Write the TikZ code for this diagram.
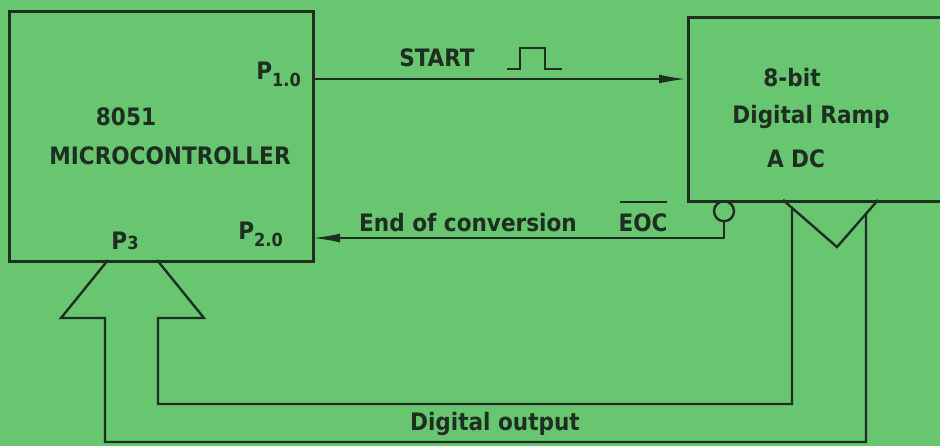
\documentclass[tikz,border=0pt]{standalone}
\usepackage{fontspec}
\setmainfont{DejaVu Sans}
\newfontfamily\lblfont{DejaVu Sans Condensed}
\usetikzlibrary{arrows.meta}
\definecolor{bg}{RGB}{104,198,112}
\definecolor{ink}{RGB}{30,46,32}
\begin{document}
\begin{tikzpicture}[x=0.5pt,y=-0.5pt,
  line width=1.1pt, draw=ink, text=ink,
  wire/.style={draw=ink, line width=1.2pt},
  box/.style={draw=ink, line width=1.3pt, rectangle, inner sep=0pt},
  lbl/.style={font=\lblfont\bfseries\fontsize{12}{14}\selectfont, text=ink, inner sep=0pt},
  tip/.style={-{Latex[length=14pt,width=4.5pt]}}]
\clip (0,0) rectangle (940,446);
\fill[bg] (0,0) rectangle (940,446);
% boxes
\node[box, anchor=north west, minimum width=152pt, minimum height=125pt] (mc) at (8,10) {};
\node[box, anchor=north west, minimum width=140pt, minimum height=92pt] (adc) at (687,16) {};
% ports
\coordinate (p10) at (312,79);
\coordinate (adcin) at (687,79);
\coordinate (p20) at (312,238);
\coordinate (eocb) at (724,238);
\node[draw=ink, circle, line width=1.2pt, minimum size=10pt, inner sep=0pt, anchor=north] (bub) at (724,200) {};
% START
\draw[wire, tip] (p10) -- (adcin);
\node[lbl] (start) at (437,58) {START};
\draw[wire, line width=1.1pt] (507,69) -- (520,69) -- (520,48) -- (545,48) -- (545,69) -- (562,69);
% EOC
\draw[wire, tip] (bub.south) -- (eocb) -- (p20);
\node[lbl] (eoclbl) at (468,223) {End of conversion};
\node[lbl] (eoc) at (643,223) {EOC};
\draw[wire, line width=1.1pt] (620,202) -- (667,202);
% texts in boxes
\node[lbl] (t8051) at (126,117) {8051};
\node[lbl] (tmc) at (170,156) {MICROCONTROLLER};
\node[lbl, anchor=east] (lp10) at (302,74) {P\raisebox{-0.55ex}{\small 1.0}};
\node[lbl, anchor=east] (lp20) at (284,234) {P\raisebox{-0.55ex}{\small 2.0}};
\node[lbl] (lp3) at (125,241) {P{\small 3}};
\node[lbl] (t8) at (792,78) {8-bit};
\node[lbl] (tdr) at (811,117) {Digital Ramp};
\node[lbl] (tadc) at (796,159) {A DC};
% ADC output triangle
\coordinate (tl) at (783,200);
\coordinate (tb) at (837,247);
\coordinate (tr) at (878,200);
\draw[wire, line join=miter] (tl) -- (tb) -- (tr);
% big hollow arrow to P3
\coordinate (al) at (108,260);
\coordinate (ar) at (157,260);
\draw[wire, line join=miter] (al) -- (61,318) -- (105,318) -- (105,442) -- (866,442) -- (866,214);
\draw[wire, line join=miter] (ar) -- (204,318) -- (158,318) -- (158,404) -- (792,404) -- (792,208);
\node[lbl] (dout) at (495,424) {Digital output};
\end{tikzpicture}
\end{document}
